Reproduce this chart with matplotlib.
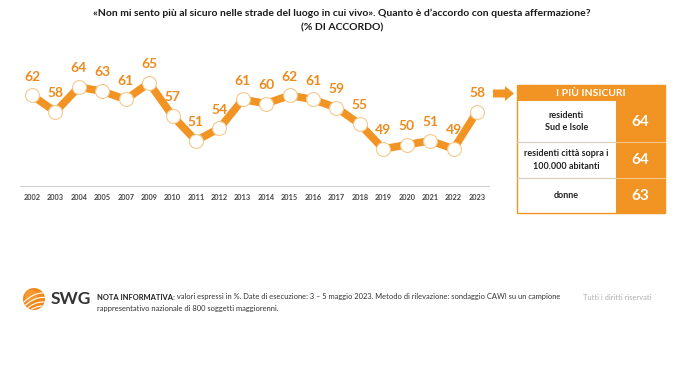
import matplotlib.pyplot as plt
import matplotlib.patches as mpatches
import numpy as np

plt.rcParams['font.family'] = ['Lato', 'DejaVu Sans']

years = ['2002', '2003', '2004', '2005', '2007', '2009', '2010', '2011', '2012', '2013',
         '2014', '2015', '2016', '2017', '2018', '2019', '2020', '2021', '2022', '2023']
agree = [62, 58, 64, 63, 61, 65, 57, 51, 54, 61, 60, 62, 61, 59, 55, 49, 50, 51, 49, 58]

groups = ['residenti\nSud e Isole', 'residenti città sopra i\n100.000 abitanti', 'donne']
group_vals = [64, 64, 63]

ORANGE = '#F29423'
LABEL = '#EE8B1E'
DARK = '#333333'

fig = plt.figure(figsize=(6.8, 3.66), dpi=100)

# main line chart
W, H = 680.0, 366.0
ax = fig.add_axes([20.3 / W, 1 - 186 / H, 468.4 / W, (186 - 62.4) / H])
x = np.arange(len(years))
ax.plot(x, agree, color=ORANGE, lw=5.5, solid_joinstyle='round', zorder=2)
ax.plot(x, agree, 'o', ms=10, mfc='white', mec='#F5C98E', mew=0.8, zorder=3)
for xi, v in zip(x, agree):
    ax.annotate(str(v), (xi, v), xytext=(0, 13.5), textcoords='offset points',
                ha='center', va='center', fontsize=10, fontweight='bold', color=LABEL)
ax.set_xlim(-0.5, len(years) - 0.5)
ax.set_ylim(40, 70)
ax.set_xticks(x)
ax.set_xticklabels(years, fontsize=5.3, fontweight='bold', color='#444444')
ax.tick_params(axis='x', length=0, pad=6)
ax.set_yticks([])
for s in ['top', 'right', 'left']:
    ax.spines[s].set_visible(False)
ax.spines['bottom'].set_color('#D0D0D0')
ax.spines['bottom'].set_linewidth(0.8)
ax.patch.set_alpha(0)

# overlay in pixel coordinates for titles, panel and footer
ov = fig.add_axes([0, 0, 1, 1], zorder=-1)
ov.set_xlim(0, W)
ov.set_ylim(H, 0)
ov.axis('off')

ov.text(342, 13, '«Non mi sento più al sicuro nelle strade del luogo in cui vivo». Quanto è d’accordo con questa affermazione?',
        ha='center', va='center', fontsize=7.5, fontweight='bold', color='#1a1a1a')
ov.text(342, 28, '(% DI ACCORDO)', ha='center', va='center', fontsize=7.5,
        fontweight='bold', color='#1a1a1a')

# arrow
ov.add_patch(mpatches.FancyArrow(493, 93.5, 12, 0, width=8, head_width=15, head_length=9,
                                 length_includes_head=False, color=ORANGE, lw=0))

# side panel
L, R, C = 517, 665, 616
top, hb = 85, 101
rows = [101, 142, 178, 213]
ov.add_patch(mpatches.Rectangle((L, top), R - L, hb - top, color=ORANGE, lw=0))
ov.text((L + R) / 2, (top + hb) / 2, 'I PIÙ INSICURI', ha='center', va='center',
        fontsize=7.5, fontweight='bold', color='white')
for i, (g, v) in enumerate(zip(groups, group_vals)):
    y0, y1 = rows[i], rows[i + 1]
    ov.add_patch(mpatches.Rectangle((C, y0), R - C, y1 - y0, color=ORANGE, lw=0))
    ov.text((L + C) / 2, (y0 + y1) / 2, g, ha='center', va='center', fontsize=6.5,
            fontweight='bold', color='#222222', linespacing=1.45)
    ov.text((C + R) / 2, (y0 + y1) / 2, str(v), ha='center', va='center', fontsize=11,
            fontweight='bold', color='white')
    if i > 0:
        ov.plot([L, C], [y0, y0], color='#D8CBBE', lw=0.8)
        ov.plot([C, R], [y0, y0], color='#F7C58A', lw=0.8)
ov.add_patch(mpatches.Rectangle((L, top), R - L, rows[-1] - top, fill=False,
                                ec=ORANGE, lw=1.0))

# footer logo
cx, cy, r = 34, 299, 11
ov.add_patch(mpatches.Circle((cx, cy), r, color='#F08A1C', lw=0))
ov.add_patch(mpatches.Circle((cx - 3, cy - 3), r * 0.55, color='#F7A540', lw=0, alpha=0.6))
t = np.linspace(-r, r, 60)
for off in [-4, 0.5, 5, 9]:
    xs = cx + t
    ys = cy - 0.45 * t + off + 0.025 * t ** 2
    m = (xs - cx) ** 2 + (ys - cy) ** 2 < (r - 0.6) ** 2
    ov.plot(np.where(m, xs, np.nan), np.where(m, ys, np.nan), color='white', lw=0.8)
ov.text(51, 298.5, 'SWG', ha='left', va='center', fontsize=12.5, fontweight='bold', color=DARK)

note_b = ov.text(97, 297, 'NOTA INFORMATIVA:', ha='left', va='center', fontsize=5.4,
                 fontweight='bold', color='#222222')
fig.canvas.draw()
bb = note_b.get_window_extent(fig.canvas.get_renderer())
ov.annotate(' valori espressi in %. Date di esecuzione: 3 – 5 maggio 2023. Metodo di rilevazione: sondaggio CAWI su un campione',
            xy=(1, 0.5), xycoords=note_b, ha='left', va='center', fontsize=5.4, color='#333333')
ov.text(97, 309, 'rappresentativo nazionale di 800 soggetti maggiorenni.', ha='left', va='center',
        fontsize=5.4, color='#333333')
ov.text(583, 298, 'Tutti i diritti riservati', ha='left', va='center', fontsize=5.4, color='#B0B0B0')

fig.savefig('out.png', dpi=100, facecolor='white')
